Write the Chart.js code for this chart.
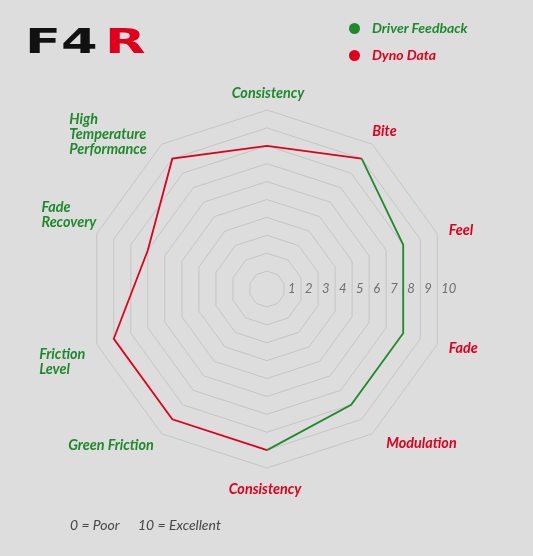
<!DOCTYPE html>
<html>
<head>
<meta charset="utf-8">
<script src="https://cdn.jsdelivr.net/npm/chart.js@4"></script>
<style>
  html, body { margin: 0; padding: 0; }
  body { width: 533px; height: 556px; background: #dddddd; position: relative; overflow: hidden; font-family: Lato, sans-serif; }
  #chart { position: absolute; left: 0; top: 0; }
  .logo { position: absolute; top: 24px; font: bold 34px/34px "DejaVu Sans", sans-serif; transform: scaleX(1.55); transform-origin: left top; white-space: nowrap; }
  .legend { position: absolute; left: 349px; font: italic bold 14px/16px Lato, sans-serif; white-space: nowrap; }
  .legend span.dot { display: inline-block; width: 11px; height: 11px; border-radius: 50%; vertical-align: -1px; margin-right: 12px; }
  .note { position: absolute; top: 517px; font: italic 14px/16px Lato, sans-serif; color: #474747; white-space: nowrap; }
</style>
</head>
<body>
<canvas id="chart" width="533" height="556"></canvas>
<div class="logo" style="left:25px;color:#111">F4</div>
<div class="logo" style="left:105px;color:#e0001b">R</div>
<div class="legend" style="top:20px;color:#1f8a2c"><span class="dot" style="background:#1f8a2c"></span>Driver Feedback</div>
<div class="legend" style="top:47px;color:#e0001b"><span class="dot" style="background:#e0001b"></span>Dyno Data</div>
<div class="note" style="left:70px">0 = Poor</div>
<div class="note" style="left:138px">10 = Excellent</div>
<script>
const GREEN = '#1f8a2c';
const RED = '#e0001b';

const axisLabels = ['Consistency', 'Bite', 'Feel', 'Fade', 'Modulation', 'Consistency',
  'Green Friction', ['Friction', 'Level'], ['Fade', 'Recovery'], ['High', 'Temperature', 'Performance']];
const labelColors = [GREEN, RED, RED, RED, RED, RED, GREEN, GREEN, GREEN, GREEN];
// small hand nudges so the text sits where the original put it
const labelNudge = [[1, 3], [-7, -3], [0, 0], [0, 0], [7, 0], [-2, 2], [-1, 2], [0, 14], [11, -15], [-8, 0]];

const driverFeedback = [null, 9, 8, 8, 8, 9, null, null, null, null];
const dynoData = [8, 9, null, null, null, 9, 9, 9, 7, 9];

const textPlugin = {
  id: 'textPlugin',
  afterDatasetsDraw(chart) {
    const s = chart.scales.r;
    const ctx = chart.ctx;
    ctx.save();

    // tick numbers along the right hand flat edge
    ctx.font = 'italic 13px Lato';
    ctx.fillStyle = '#707070';
    ctx.textAlign = 'left';
    ctx.textBaseline = 'middle';
    s.ticks.forEach(t => {
      if (t.value <= 0) return;
      const d = s.getDistanceFromCenterForValue(t.value);
      const a = s.getPointPosition(2, d);
      const b = s.getPointPosition(3, d);
      ctx.fillText(t.label, (a.x + b.x) / 2 + 4, s.yCenter);
    });

    // axis names
    ctx.font = 'italic bold 14.4px Lato';
    const lineH = 15;
    axisLabels.forEach((lab, i) => {
      const lines = Array.isArray(lab) ? lab : [lab];
      const w = Math.max(...lines.map(l => ctx.measureText(l).width));
      const h = lines.length * lineH;
      const p = s.getPointPosition(i, s.drawingArea + 12);
      let left, top;
      if (Math.abs(p.x - s.xCenter) < 1) left = p.x - w / 2;
      else if (p.x > s.xCenter) left = p.x;
      else left = p.x - w;
      if (i === 0) top = p.y - h;
      else if (i === 5) top = p.y;
      else top = p.y - h / 2;
      left += labelNudge[i][0];
      top += labelNudge[i][1];
      ctx.fillStyle = labelColors[i];
      lines.forEach((l, k) => ctx.fillText(l, left, top + lineH * k + lineH / 2));
    });
    ctx.restore();
  }
};

new Chart(document.getElementById('chart'), {
  type: 'radar',
  data: {
    labels: axisLabels,
    datasets: [
      { label: 'Driver Feedback', data: driverFeedback, borderColor: GREEN, borderWidth: 1.8, fill: false, pointRadius: 0, spanGaps: false },
      { label: 'Dyno Data', data: dynoData, borderColor: RED, borderWidth: 1.8, fill: false, pointRadius: 0, spanGaps: false }
    ]
  },
  options: {
    responsive: false,
    animation: false,
    layout: { padding: { left: 88, right: 87, top: 110, bottom: 88 } },
    plugins: { legend: { display: false }, tooltip: { enabled: false } },
    scales: {
      r: {
        min: 0,
        max: 10,
        ticks: { stepSize: 1, display: false },
        grid: { color: '#c5c5c5', lineWidth: 1 },
        angleLines: { display: false },
        pointLabels: { display: false }
      }
    }
  },
  plugins: [textPlugin]
});
</script>
</body>
</html>
